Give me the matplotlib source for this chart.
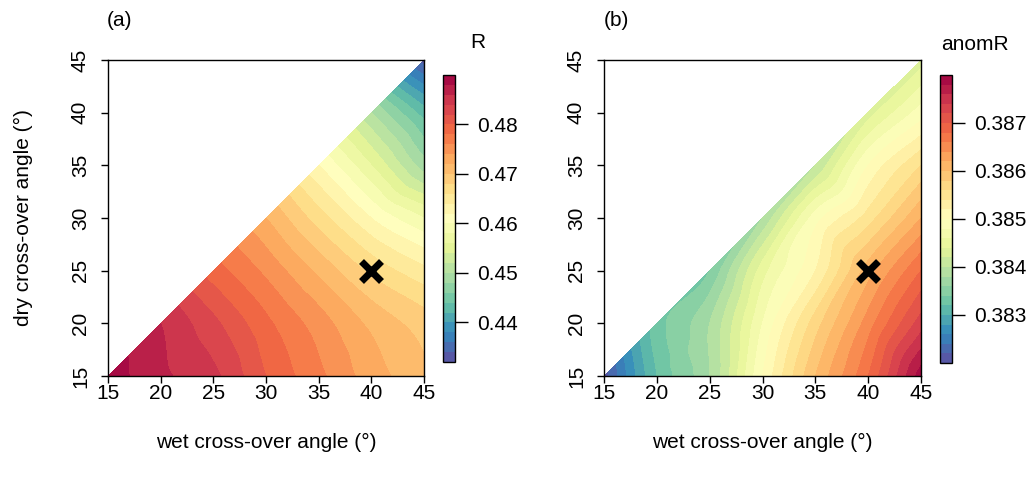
import matplotlib
matplotlib.use('Agg')
import matplotlib.pyplot as plt
import matplotlib.tri as mtri
import numpy as np

plt.rcParams['font.family'] = ['Liberation Sans', 'DejaVu Sans']
plt.rcParams['font.size'] = 15

# grid of angles (deg); rows = dry angle, cols = wet angle, only dry <= wet exists
angles = [15, 20, 25, 30, 35, 40, 45]

R_vals = [
    [0.489, 0.4865, 0.4845, 0.480, 0.4765, 0.473, 0.4705],
    [np.nan, 0.486, 0.4825, 0.4785, 0.475, 0.4715, 0.469],
    [np.nan, np.nan, 0.479, 0.4755, 0.4715, 0.4675, 0.4645],
    [np.nan, np.nan, np.nan, 0.472, 0.467, 0.462, 0.458],
    [np.nan, np.nan, np.nan, np.nan, 0.462, 0.456, 0.449],
    [np.nan, np.nan, np.nan, np.nan, np.nan, 0.450, 0.443],
    [np.nan, np.nan, np.nan, np.nan, np.nan, np.nan, 0.433],
]

anomR_vals = [
    [0.3821, 0.3832, 0.3838, 0.3850, 0.3860, 0.3868, 0.3879],
    [np.nan, 0.3833, 0.3838, 0.3848, 0.3857, 0.3865, 0.3873],
    [np.nan, np.nan, 0.3834, 0.3845, 0.3852, 0.3861, 0.3868],
    [np.nan, np.nan, np.nan, 0.3838, 0.3849, 0.3855, 0.3862],
    [np.nan, np.nan, np.nan, np.nan, 0.3840, 0.3850, 0.3856],
    [np.nan, np.nan, np.nan, np.nan, np.nan, 0.3843, 0.3849],
    [np.nan, np.nan, np.nan, np.nan, np.nan, np.nan, 0.3843],
]

R_levels = np.arange(0.432, 0.4901, 0.002)
anomR_levels = np.arange(0.3820, 0.38801, 0.0002)
R_ticks = [0.44, 0.45, 0.46, 0.47, 0.48]
anomR_ticks = [0.383, 0.384, 0.385, 0.386, 0.387]

best = (40, 25)  # wet, dry


def tri_field(vals):
    xs, ys, zs = [], [], []
    for i, dry in enumerate(angles):
        for j, wet in enumerate(angles):
            if wet >= dry:
                xs.append(wet)
                ys.append(dry)
                zs.append(vals[i][j])
    tri = mtri.Triangulation(xs, ys)
    interp = mtri.CubicTriInterpolator(tri, np.array(zs), kind='geom')
    refiner = mtri.UniformTriRefiner(tri)
    rtri, rz = refiner.refine_field(np.array(zs), triinterpolator=interp, subdiv=4)
    return rtri, rz


fig = plt.figure(figsize=(10.3, 4.79), dpi=100)
W, H = 1030, 479

panels = [
    dict(vals=R_vals, levels=R_levels, ticks=R_ticks, title='R', tag='(a)',
         ax_px=(108, 60, 316, 316), cb_px=(443, 75, 12, 287), title_xy=(478, 43),
         fmt='%.2f'),
    dict(vals=anomR_vals, levels=anomR_levels, ticks=anomR_ticks, title='anomR', tag='(b)',
         ax_px=(604, 60, 317, 316), cb_px=(940, 75, 12, 288), title_xy=(975, 45),
         fmt='%.3f'),
]

for k, p in enumerate(panels):
    x0, y0, w, h = p['ax_px']
    ax = fig.add_axes([x0 / W, 1 - (y0 + h) / H, w / W, h / H])
    rtri, rz = tri_field(p['vals'])
    lv = p['levels']
    rz = np.clip(rz, lv[0] + 1e-9, lv[-1] - 1e-9)
    cs = ax.tricontourf(rtri, rz, levels=lv, cmap='Spectral_r')
    ax.plot(*best, marker='x', ms=15, mew=5, color='k')
    ax.set_xlim(15, 45)
    ax.set_ylim(15, 45)
    ax.set_xticks(angles)
    ax.set_yticks(angles)
    ax.tick_params(axis='x', length=5, width=1, pad=0.5)
    ax.tick_params(axis='y', length=5, width=1, pad=8)
    for lab in ax.get_yticklabels():
        lab.set_rotation(90)
        lab.set_va('center')
    for s in ax.spines.values():
        s.set_linewidth(1)
    ax.set_xlabel('wet cross-over angle (°)', labelpad=22)
    if k == 0:
        ax.set_ylabel('dry cross-over angle (°)', labelpad=27)

    cx, cy, cw, ch = p['cb_px']
    cax = fig.add_axes([cx / W, 1 - (cy + ch) / H, cw / W, ch / H])
    cb = fig.colorbar(cs, cax=cax, ticks=p['ticks'], format=p['fmt'])
    cb.outline.set_linewidth(1)
    cax.tick_params(length=9, width=1, pad=7)
    fig.text(p['title_xy'][0] / W, 1 - p['title_xy'][1] / H, p['title'],
             ha='center', va='center')
    fig.text((x0 + 12) / W, 1 - 20 / H, p['tag'], ha='center', va='center')

fig.savefig('out.png', dpi=100)
